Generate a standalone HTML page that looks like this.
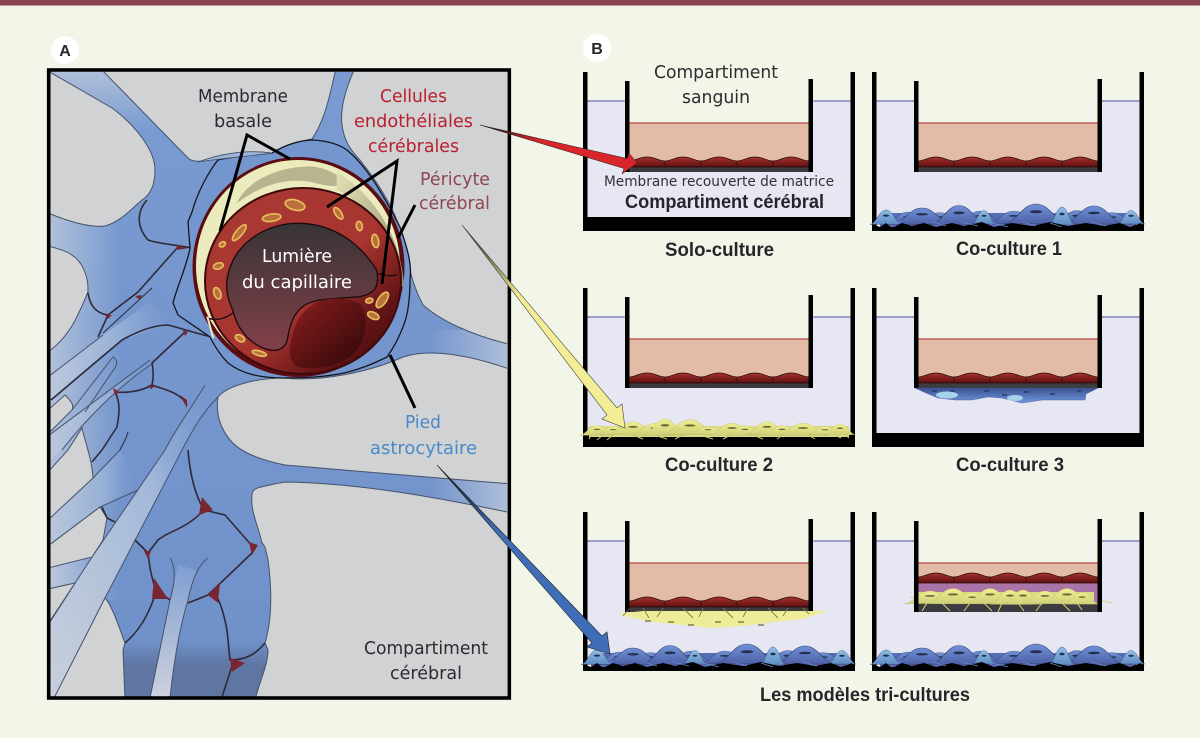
<!DOCTYPE html>
<html lang="fr"><head><meta charset="utf-8"><title>Modèles de culture</title>
<style>html,body{margin:0;padding:0;background:#f2f6e9}svg{display:block}
text{font-family:"DejaVu Sans","Liberation Sans",sans-serif}
.b{font-family:"Liberation Sans",sans-serif;font-weight:700;fill:#26262a}</style></head><body>
<svg xmlns="http://www.w3.org/2000/svg" width="1200" height="738" viewBox="0 0 1200 738">
<defs>
<linearGradient id="blue" gradientUnits="userSpaceOnUse" x1="0" y1="72" x2="0" y2="697"><stop offset="0" stop-color="#7a9bd2"/><stop offset=".91" stop-color="#7091c9"/><stop offset=".95" stop-color="#5f76a3"/><stop offset="1" stop-color="#5f76a3"/></linearGradient>
<linearGradient id="fadeL" x1="0" y1="0" x2="1" y2="0"><stop offset="0" stop-color="#b4c3da" stop-opacity=".95"/><stop offset="1" stop-color="#b4c3da" stop-opacity="0"/></linearGradient>
<linearGradient id="fadeR" x1="1" y1="0" x2="0" y2="0"><stop offset="0" stop-color="#b4c3da" stop-opacity=".9"/><stop offset="1" stop-color="#b4c3da" stop-opacity="0"/></linearGradient>
<linearGradient id="fadeT" x1="0" y1="0" x2="0" y2="1"><stop offset="0" stop-color="#b4c3da" stop-opacity=".9"/><stop offset="1" stop-color="#b4c3da" stop-opacity="0"/></linearGradient>
<linearGradient id="s1" x1="0" y1="0" x2="1" y2="0"><stop offset="0" stop-color="#bcc8db"/><stop offset=".6" stop-color="#9db4d8" stop-opacity=".8"/><stop offset="1" stop-color="#7c9cd2" stop-opacity="0"/></linearGradient>
<linearGradient id="s5" x1="0" y1="1" x2="1" y2="0"><stop offset="0" stop-color="#c9d0db"/><stop offset=".65" stop-color="#a3b8da"/><stop offset="1" stop-color="#7e9dd2" stop-opacity="0"/></linearGradient>
<linearGradient id="s6" x1="0" y1="0" x2="0" y2="1"><stop offset="0" stop-color="#7f9ed2"/><stop offset="1" stop-color="#cdd2dc"/></linearGradient>
<linearGradient id="ring" x1="0" y1="0" x2="1" y2="1"><stop offset="0" stop-color="#a83a32"/><stop offset=".55" stop-color="#a83530"/><stop offset=".8" stop-color="#5f1214"/><stop offset="1" stop-color="#3e0a0c"/></linearGradient>
<linearGradient id="lum" x1="0" y1="0" x2="0" y2="1"><stop offset="0" stop-color="#373436"/><stop offset="1" stop-color="#84404a"/></linearGradient>
<linearGradient id="nuc" x1="0" y1="0" x2="1" y2="1"><stop offset="0" stop-color="#8e1f20"/><stop offset="1" stop-color="#2c0606"/></linearGradient>
<linearGradient id="oli" x1="0" y1="0" x2="1" y2="1"><stop offset="0" stop-color="#e2e1b4"/><stop offset="1" stop-color="#8f8e6c"/></linearGradient>
<linearGradient id="ar" x1="0" y1="0" x2="1" y2="1"><stop offset="0" stop-color="#111"/><stop offset=".35" stop-color="#d8262a"/></linearGradient>
<linearGradient id="ay" x1="0" y1="0" x2="1" y2="1"><stop offset="0" stop-color="#111"/><stop offset=".35" stop-color="#f3ee96"/></linearGradient>
<linearGradient id="ab" x1="0" y1="0" x2="1" y2="1"><stop offset="0" stop-color="#111"/><stop offset=".35" stop-color="#3f6db8"/></linearGradient>
<linearGradient id="ce" x1="0" y1="0" x2="0" y2="1"><stop offset="0" stop-color="#a8332c"/><stop offset="1" stop-color="#5a0f10"/></linearGradient>
<linearGradient id="bc" x1="0" y1="0" x2="0" y2="1"><stop offset="0" stop-color="#6f92d6"/><stop offset="1" stop-color="#4f60a8"/></linearGradient>
<linearGradient id="lc" x1="0" y1="0" x2="0" y2="1"><stop offset="0" stop-color="#8dbfe4"/><stop offset="1" stop-color="#5f8cc4"/></linearGradient>
<linearGradient id="yc" x1="0" y1="0" x2="0" y2="1"><stop offset="0" stop-color="#efee90"/><stop offset="1" stop-color="#cfd07a"/></linearGradient>
<linearGradient id="co3" x1="0" y1="0" x2="0" y2="1"><stop offset="0" stop-color="#3c5090"/><stop offset="1" stop-color="#6f9ade"/></linearGradient>
<clipPath id="pc"><rect x="50" y="72" width="457" height="625"/></clipPath>

<g id="bu"><path d="M-20,8 C-12,7 -9,-10 0,-10 C9,-10 12,7 20,8 Z" stroke="#39456f" stroke-width=".5"/><ellipse cx="0" cy="-3" rx="4" ry="1.3" fill="#25304f"/></g>
<g id="yu"><path d="M-20,8 C-12,7 -9,-10 0,-10 C9,-10 12,7 20,8 Z" fill="url(#yc)" stroke="#b0b060" stroke-width=".3"/><ellipse cx="0" cy="-3" rx="4" ry="1.3" fill="#6b6a3a"/></g>

<g id="endo"><path d="M46,95 V89 C52,89 56,85 64,85 C72,85 76,89 82,89 C88,89 92,85 100,85 C108,85 112,89 118,89 C124,89 128,85 136,85 C144,85 148,89 154,89 C160,89 164,85 172,85 C180,85 184,89 190,89 C196,89 200,85 208,85 C216,85 220,89 226,89 V95 Z" fill="url(#ce)" stroke="#2a0808" stroke-width=".7"/>
<path d="M82,89V95M118,89V95M154,89V95M190,89V95" stroke="#2a0808" stroke-width=".6"/></g>

<g id="well"><rect x="4" y="29" width="38" height="120" fill="#e6e7f3"/><rect x="230" y="29" width="38" height="120" fill="#e6e7f3"/><rect x="4" y="100" width="264" height="49" fill="#e6e7f3"/>
<path d="M4,29H42M230,29H268" stroke="#6a72c0" stroke-width="1.2"/>
<rect x="46" y="51" width="180" height="44" fill="#e3bca8"/><path d="M46,51H226" stroke="#bf5f58" stroke-width="1.4"/>
<rect x="42" y="95" width="188" height="5" fill="#3c3c40"/>
<use href="#endo"/>
<rect x="42" y="9" width="4.5" height="91" fill="#000"/><rect x="225.5" y="7" width="4.5" height="93" fill="#000"/>
<rect x="0" y="0" width="4.5" height="159" fill="#000"/><rect x="267.5" y="0" width="4.5" height="159" fill="#000"/></g>

<g id="blueL">
<rect x="8" y="141" width="256" height="14" fill="#5a6eb6"/>
<use href="#bu" fill="url(#bc)" transform="translate(36,147) scale(1.2,.7)"/><use href="#bu" fill="url(#bc)" transform="translate(68,147) scale(1.2,.65)"/><use href="#bu" fill="url(#bc)" transform="translate(108,146) scale(1.2,.7)"/><use href="#bu" fill="url(#bc)" transform="translate(142,146) scale(1.3,.7)"/><use href="#bu" fill="url(#bc)" transform="translate(205,146) scale(1.2,.75)"/><use href="#bu" fill="url(#bc)" transform="translate(240,147) scale(1.2,.65)"/>
<use href="#bu" fill="url(#bc)" transform="translate(50,145) scale(1.5,.9)"/><use href="#bu" fill="url(#bc)" transform="translate(87,144) scale(1.4,1.05)"/><use href="#bu" fill="url(#bc)" transform="translate(164,143) scale(1.6,1.1)"/><use href="#bu" fill="url(#bc)" transform="translate(222,144) scale(1.5,1)"/>
<use href="#bu" fill="url(#lc)" transform="translate(14,146) scale(.8,.8)"/><use href="#bu" fill="url(#lc)" transform="translate(112,146) scale(.6,.75)"/><use href="#bu" fill="url(#lc)" transform="translate(190,145) scale(.65,1)"/><use href="#bu" fill="url(#lc)" transform="translate(259,146) scale(.7,.75)"/>
<path d="M3,159V153L8,155L14,151L20,156L30,151L40,154L52,151L64,155L80,151L92,154L110,150L122,155L140,151L160,154L178,150L196,154L214,151L232,154L248,151L258,155L269,151V159Z" fill="#000"/>
<path d="M20,152L30,149M60,150L74,154M90,150L106,154M120,151L136,155M150,150L164,154M178,151L190,155M220,150L234,154" stroke="#6f86c8" stroke-width=".8"/></g>

<g id="yelL">
<rect x="6" y="138" width="260" height="11" fill="#dcdc84"/>
<use href="#yu" transform="translate(14,143) scale(.9,.55)"/><use href="#yu" transform="translate(30,143) scale(.9,.45)"/><use href="#yu" transform="translate(50,141) scale(1.2,.72)"/><use href="#yu" transform="translate(72,142) scale(1.2,.67)"/><use href="#yu" transform="translate(82,140) scale(1.1,.9)"/><use href="#yu" transform="translate(107,140) scale(1.4,.83)"/><use href="#yu" transform="translate(125,143) scale(.9,.45)"/><use href="#yu" transform="translate(149,142) scale(1.2,.67)"/><use href="#yu" transform="translate(162,143) scale(.9,.55)"/><use href="#yu" transform="translate(184,141) scale(1.1,.72)"/><use href="#yu" transform="translate(199,143) scale(.9,.55)"/><use href="#yu" transform="translate(220,142) scale(1.3,.67)"/><use href="#yu" transform="translate(242,143) scale(.9,.45)"/><use href="#yu" transform="translate(257,142) scale(.8,.6)"/>
<path d="M8,147L6,151M20,147L14,152M30,147L24,152M50,147L60,151M74,148L84,151M100,147L92,151M120,148L130,151M146,148L140,151M170,147L180,151M200,147L194,151M225,147L232,151M252,147L258,150M262,147L266,150" stroke="#c9c872" stroke-width="1"/></g>
</defs>

<rect width="1200" height="738" fill="#f2f6e9"/>
<rect width="1200" height="5.5" fill="#8a4354"/>

<!-- Panel A -->
<g clip-path="url(#pc)">
<rect x="50" y="72" width="457" height="625" fill="url(#blue)"/>
<rect x="50" y="200" width="70" height="400" fill="url(#fadeL)"/>
<rect x="430" y="330" width="77" height="200" fill="url(#fadeR)"/>
<path d="M50,72H125L175,130H110Z" fill="url(#fadeT)"/>
<path d="M48,377L103,335L150,302L172,325C150,330 130,338 122,340C95,360 70,382 48,402Z" fill="url(#s1)"/>
<path d="M48,436L150,360L152,364C120,385 85,420 62,450L48,462Z" fill="url(#s1)"/>
<path d="M48,520L93,478L120,450L140,490L100,507L48,546Z" fill="url(#s1)"/>
<path d="M48,568L92,557L100,535L92,557L75,583L48,590Z" fill="url(#s1)"/>
<path d="M205,385C190,410 175,430 165,450L92,557L48,625V700H55L105,598L182,450C195,425 205,410 218,397Z" fill="url(#s5)"/>
<path d="M178,565L170,600L150,698H170C175,650 182,620 188,600L196,570Z" fill="url(#s6)"/>
<g fill="none" stroke="#465269" stroke-width="1">
<path d="M48,377L103,335"/>
<path d="M48,436L150,360M152,364C120,385 85,420 62,450"/>
<path d="M72,410L113,357C118,360 118,365 112,372L85,412"/>
<path d="M93,478L120,450M138,490L100,507L48,546"/>
<path d="M205,385C190,410 175,430 165,450L92,557L48,625M55,697L105,598L182,450C195,425 205,410 218,397"/>
<path d="M170,558C175,565 176,580 170,600L150,698M170,698C175,650 182,620 188,600C192,580 198,565 208,558"/>
</g>
<g fill="#d1d2d4" stroke="#465269" stroke-width="1">
<path d="M48,71L112,108C135,125 155,150 155,170C155,185 150,195 142,200C130,210 120,222 105,226C90,228 70,222 48,213Z"/>
<path d="M100,68L188,158C192,162 200,162 210,160C235,154 255,153 272,153C285,147 295,142 312,139C325,120 330,95 336,68Z"/>
<path d="M355,68C345,90 340,110 342,125C344,140 350,150 360,160C380,185 395,210 402,235C408,260 410,280 423,305C440,320 470,335 512,345V68Z"/>
<path d="M48,246C65,250 78,255 84,270C88,280 88,285 88,292C80,310 72,335 48,352Z"/>
<path d="M48,410L65,395C72,402 74,405 72,410L48,434Z"/>
<path d="M48,472L68,450L82,428C86,445 92,460 93,478L48,520Z"/>
<path d="M48,546L100,507L107,518L103,540L92,557L48,568Z"/>
<path d="M48,589L75,583L48,624Z"/>
<path d="M105,598C112,605 120,630 125,643L123,650L125,700H53Z"/>
<path d="M285,378C320,382 370,372 403,357C430,348 470,355 512,370V484C440,478 340,470 285,465C260,460 240,452 230,440C218,425 216,410 218,397C225,388 250,378 285,378Z"/>
<path d="M252,495C252,488 258,487 285,482C360,483 440,498 512,513V700H255C260,680 268,665 268,650L265,643C272,620 272,590 268,560C266,550 265,545 262,543C258,525 250,510 252,495Z"/>
</g>
<g fill="none" stroke="#2e2a38" stroke-width="1.6" stroke-linejoin="round">
<path d="M147,200C138,210 135,225 148,240C160,244 170,244 192,248"/>
<path d="M178,247L138,292L108,315L98,337"/>
<path d="M103,333L152,288" stroke-width="1"/>
<path d="M88,293C90,305 95,313 108,315"/>
<path d="M51,400L122,340C140,330 155,325 168,325C180,328 195,333 212,337"/>
<path d="M185,332L152,363C154,372 153,380 152,385C140,392 125,393 115,392C122,405 118,420 117,427L102,450L92,462"/>
<path d="M152,385C165,390 180,392 187,405"/>
<path d="M128,432C126,440 122,445 120,450" stroke-width="1"/>
<path d="M188,450C190,475 195,495 204,510L225,515L253,547L252,553"/>
<path d="M204,510C185,530 170,530 158,540L148,553L135,540"/>
<path d="M148,553C150,570 152,580 156,590L170,600"/>
<path d="M154,598C148,615 140,630 125,643"/>
<path d="M188,603L208,595L252,553"/>
<path d="M215,593C222,605 225,620 227,630L230,660C245,660 255,655 265,643"/>
<path d="M233,663L222,697"/>
<path d="M102,507L107,518L115,522"/>
</g>
<g fill="#7a2630">
<path d="M176,245L188,248L178,250Z"/><path d="M135,296L142,295L140,300Z"/><path d="M105,315L112,315L108,319Z"/><path d="M183,330L188,332L185,336Z"/><path d="M113,388L120,392L115,395Z"/><path d="M148,385L155,386L151,389Z"/><path d="M180,395L187,400L187,408Z"/>
<path d="M202,497L213,510L199,515Z"/><path d="M249,542L258,545L252,555Z"/><path d="M144,551L151,551L148,559Z"/><path d="M154,578L168,599L152,599Z"/><path d="M220,583L208,595L218,603Z"/><path d="M230,658L245,663L232,672Z"/>
</g>
<path d="M272,153C285,145 300,140 313,140C330,141 340,145 347,150C365,165 378,185 400,227C408,250 412,265 410,280C410,300 408,315 403,327C398,340 392,350 387,357C360,370 340,378 285,378C255,378 240,372 228,363C220,355 214,345 210,337L178,315L173,303C176,290 188,262 190,248L188,222L192,212C198,190 210,170 218,160C235,156 255,155 272,153Z" fill="#7396cf" stroke="#15161c" stroke-width="1.3"/>
<path d="M198,162C225,152 250,150 272,153C250,156 225,158 198,162Z" fill="#9db4d8" stroke="#465269" stroke-width=".8"/>
</g>

<!-- Capillary -->
<ellipse cx="298.5" cy="267" rx="106" ry="110" fill="#5a0e12"/>
<ellipse cx="298" cy="266" rx="102" ry="106" fill="#ecebbd"/>
<path transform="translate(180,140) scale(.3333)" d="M170,190C210,105 330,75 400,80C440,85 480,105 488,125C490,145 440,140 390,125C320,115 250,130 170,190Z" fill="#a9a783" opacity=".8"/>
<path transform="translate(180,140) scale(.3333)" d="M470,95C590,170 665,300 672,440L655,440C640,310 580,200 470,150Z" fill="url(#oli)"/>
<ellipse cx="303" cy="281" rx="98" ry="93" fill="url(#ring)" stroke="#3e090c" stroke-width="2"/>
<g transform="translate(180,140) scale(.3333)">
<path d="M140,430C150,320 240,265 320,252C420,240 520,280 590,390C600,440 585,460 540,470C480,475 420,475 385,490C340,510 328,560 322,600C310,640 270,635 240,620C200,600 170,560 160,515C145,480 140,460 140,430Z" fill="url(#lum)" stroke="#1a0a0c" stroke-width="4"/>
<path d="M330,625C340,530 385,490 440,478C490,470 530,480 548,500C570,560 550,620 510,650C470,680 400,690 360,682C335,675 328,650 330,625Z" fill="url(#nuc)"/>
<path d="M85,535C115,545 145,530 160,518M595,400C620,410 640,408 652,404" fill="none" stroke="#1a0a0c" stroke-width="4"/>
<path d="M82,530L100,595" fill="none" stroke="#e9e8c0" stroke-width="6"/>
<g fill="#b8713a" stroke="#e8bd5c" stroke-width="5">
<ellipse cx="345" cy="195" rx="30" ry="15" transform="rotate(15 345 195)"/><ellipse cx="275" cy="233" rx="28" ry="11" transform="rotate(-8 275 233)"/><ellipse cx="178" cy="278" rx="30" ry="10" transform="rotate(-50 178 278)"/><ellipse cx="127" cy="313" rx="10" ry="7" transform="rotate(-30 127 313)"/><ellipse cx="115" cy="378" rx="15" ry="9" transform="rotate(-15 115 378)"/><ellipse cx="112" cy="460" rx="18" ry="10" transform="rotate(70 112 460)"/><ellipse cx="180" cy="595" rx="15" ry="9" transform="rotate(30 180 595)"/><ellipse cx="238" cy="640" rx="22" ry="7" transform="rotate(15 238 640)"/><ellipse cx="475" cy="220" rx="20" ry="9" transform="rotate(55 475 220)"/><ellipse cx="538" cy="258" rx="14" ry="9" transform="rotate(80 538 258)"/><ellipse cx="586" cy="303" rx="20" ry="10" transform="rotate(80 586 303)"/><ellipse cx="568" cy="482" rx="11" ry="7" transform="rotate(-10 568 482)"/><ellipse cx="607" cy="480" rx="27" ry="12" transform="rotate(-55 607 480)"/><ellipse cx="580" cy="527" rx="18" ry="10" transform="rotate(25 580 527)"/>
</g></g>

<rect x="48.7" y="70" width="460.6" height="628" fill="none" stroke="#000" stroke-width="3.6"/>

<!-- pointers -->
<g fill="none" stroke="#000" stroke-width="3">
<path d="M220,231L247,135L290,159"/><path d="M327,207L397,161L382,284"/><path d="M415,205L398,238"/><path d="M415,408L390,355"/></g>

<!-- Wells -->
<g transform="translate(583,72)"><use href="#well"/><rect x="0" y="145" width="272" height="14" fill="#000"/></g>
<g transform="translate(872,72)"><use href="#well"/><use href="#blueL"/><rect x="0" y="155" width="272" height="4" fill="#000"/></g>
<g transform="translate(583,288)"><use href="#well"/><rect x="0" y="147" width="272" height="12" fill="#000"/><use href="#yelL"/></g>
<g transform="translate(872,288)"><use href="#well"/><rect x="0" y="145" width="272" height="14" fill="#000"/>
<path d="M43,100H226L214,106L213,112L190,112L170,112L150,115L130,110L116,109L100,112L83,112L66,110L54,105Z" fill="url(#co3)" stroke="#3c5090" stroke-width=".4"/>
<ellipse cx="75" cy="107" rx="11" ry="3.5" fill="#a7d2ee"/><ellipse cx="143" cy="110" rx="8" ry="3" fill="#a7d2ee"/>
<path d="M60,103h5M78,103h5M112,103h5M130,107h5M152,104h5M178,106h5M205,103h4" stroke="#263256" stroke-width="1.2"/></g>
<g transform="translate(583,512)"><use href="#well"/>
<path d="M34,102L60,99H226L244,99L220,107L190,110L160,114L130,116L100,113L70,110L50,106Z" fill="#eeec98"/>
<path d="M46,97L40,104M60,96L66,106M80,96L74,105M100,96L110,106M120,96L116,105M140,96L150,106M165,96L160,105M185,96L195,106M205,96L200,104M220,96L226,102" stroke="#7d7c44" stroke-width=".9"/>
<path d="M62,109h6M85,110h6M105,113h6M132,110h6M155,110h6M175,113h6" stroke="#6b6a3a" stroke-width="1.2"/>
<use href="#blueL"/><rect x="0" y="155" width="272" height="4" fill="#000"/></g>
<g transform="translate(872,512)"><use href="#well"/>
<rect x="46" y="61" width="180" height="34" fill="#e3bca8"/>
<rect x="46" y="71" width="180" height="24" fill="#ab74a8"/>
<rect x="46" y="91" width="180" height="9" fill="#3c3c40"/>
<use href="#endo" transform="translate(0,-24)"/>
<rect x="46" y="80" width="176" height="11" fill="#dcdc80"/>
<use href="#yu" transform="translate(58,86) scale(1.3,.7)"/><use href="#yu" transform="translate(81,85) scale(1.3,.85)"/><use href="#yu" transform="translate(100,87) scale(1,.6)"/><use href="#yu" transform="translate(118,85) scale(1.2,.85)"/><use href="#yu" transform="translate(138,86) scale(1,.8)"/><use href="#yu" transform="translate(151,86) scale(1,.8)"/><use href="#yu" transform="translate(173,86) scale(1.1,.7)"/><use href="#yu" transform="translate(195,85) scale(1.2,.85)"/><use href="#yu" transform="translate(210,87) scale(.9,.65)"/>
<path d="M38,85L50,87M55,91L50,99M70,91L78,99M98,91L92,99M112,91L120,99M130,91L126,100M146,91L152,99M170,91L164,99M190,91L198,99M205,91L210,98M226,88L240,91" stroke="#d8d67d" stroke-width="1"/>
<rect x="42" y="9" width="4.5" height="91" fill="#000"/><rect x="225.5" y="7" width="4.5" height="93" fill="#000"/>
<use href="#blueL"/><rect x="0" y="155" width="272" height="4" fill="#000"/></g>

<!-- Long arrows -->
<path d="M480,125L627,158.5L629,153L637,163L622,174L624,168.5Z" fill="url(#ar)" stroke="#222" stroke-width=".5"/>
<path d="M462,225L617,408L622,404L625,428L602,419L607,415Z" fill="url(#ay)" stroke="#444" stroke-width=".6"/>
<path d="M437,465L602,636L607,632L610,654L587,647L592,643Z" fill="url(#ab)" stroke="#222" stroke-width=".6"/>

<!-- Circles -->
<circle cx="65" cy="50" r="14" fill="#fff"/><circle cx="597" cy="48" r="14" fill="#fff"/>
<text class="b" x="65" y="56" font-size="16" text-anchor="middle">A</text>
<text class="b" x="597" y="54" font-size="16" text-anchor="middle">B</text>

<!-- Labels -->
<g font-size="18" fill="#2c2c30">
<text x="198" y="102" textLength="90" lengthAdjust="spacingAndGlyphs">Membrane</text>
<text x="214" y="127" textLength="58" lengthAdjust="spacingAndGlyphs">basale</text>
<text x="364" y="654" textLength="124" lengthAdjust="spacingAndGlyphs">Compartiment</text>
<text x="390" y="679" textLength="72" lengthAdjust="spacingAndGlyphs">cérébral</text>
<text x="654" y="78" textLength="124" lengthAdjust="spacingAndGlyphs">Compartiment</text>
<text x="682" y="103" textLength="68" lengthAdjust="spacingAndGlyphs">sanguin</text>
</g>
<g font-size="18" fill="#b8202c">
<text x="380" y="102" textLength="67" lengthAdjust="spacingAndGlyphs">Cellules</text>
<text x="354" y="127" textLength="119" lengthAdjust="spacingAndGlyphs">endothéliales</text>
<text x="368" y="152" textLength="91" lengthAdjust="spacingAndGlyphs">cérébrales</text>
</g>
<g font-size="18" fill="#8f4552">
<text x="420" y="185" textLength="70" lengthAdjust="spacingAndGlyphs">Péricyte</text>
<text x="419" y="209" textLength="71" lengthAdjust="spacingAndGlyphs">cérébral</text>
</g>
<g font-size="18" fill="#fff">
<text x="262" y="262" textLength="70" lengthAdjust="spacingAndGlyphs">Lumière</text>
<text x="242" y="288" textLength="110" lengthAdjust="spacingAndGlyphs">du capillaire</text>
</g>
<g font-size="18" fill="#4a8ac8">
<text x="405" y="428" textLength="36" lengthAdjust="spacingAndGlyphs">Pied</text>
<text x="370" y="454" textLength="107" lengthAdjust="spacingAndGlyphs">astrocytaire</text>
</g>
<text x="604" y="186" font-size="14" fill="#303036" textLength="230" lengthAdjust="spacingAndGlyphs">Membrane recouverte de matrice</text>
<g font-size="19">
<text class="b" x="625" y="208" textLength="199" lengthAdjust="spacingAndGlyphs">Compartiment cérébral</text>
<text class="b" x="665" y="256" textLength="109" lengthAdjust="spacingAndGlyphs">Solo-culture</text>
<text class="b" x="956" y="255" textLength="106" lengthAdjust="spacingAndGlyphs">Co-culture 1</text>
<text class="b" x="665" y="471" textLength="108" lengthAdjust="spacingAndGlyphs">Co-culture 2</text>
<text class="b" x="956" y="471" textLength="108" lengthAdjust="spacingAndGlyphs">Co-culture 3</text>
<text class="b" x="760" y="701" textLength="210" lengthAdjust="spacingAndGlyphs">Les modèles tri-cultures</text>
</g>
</svg></body></html>
